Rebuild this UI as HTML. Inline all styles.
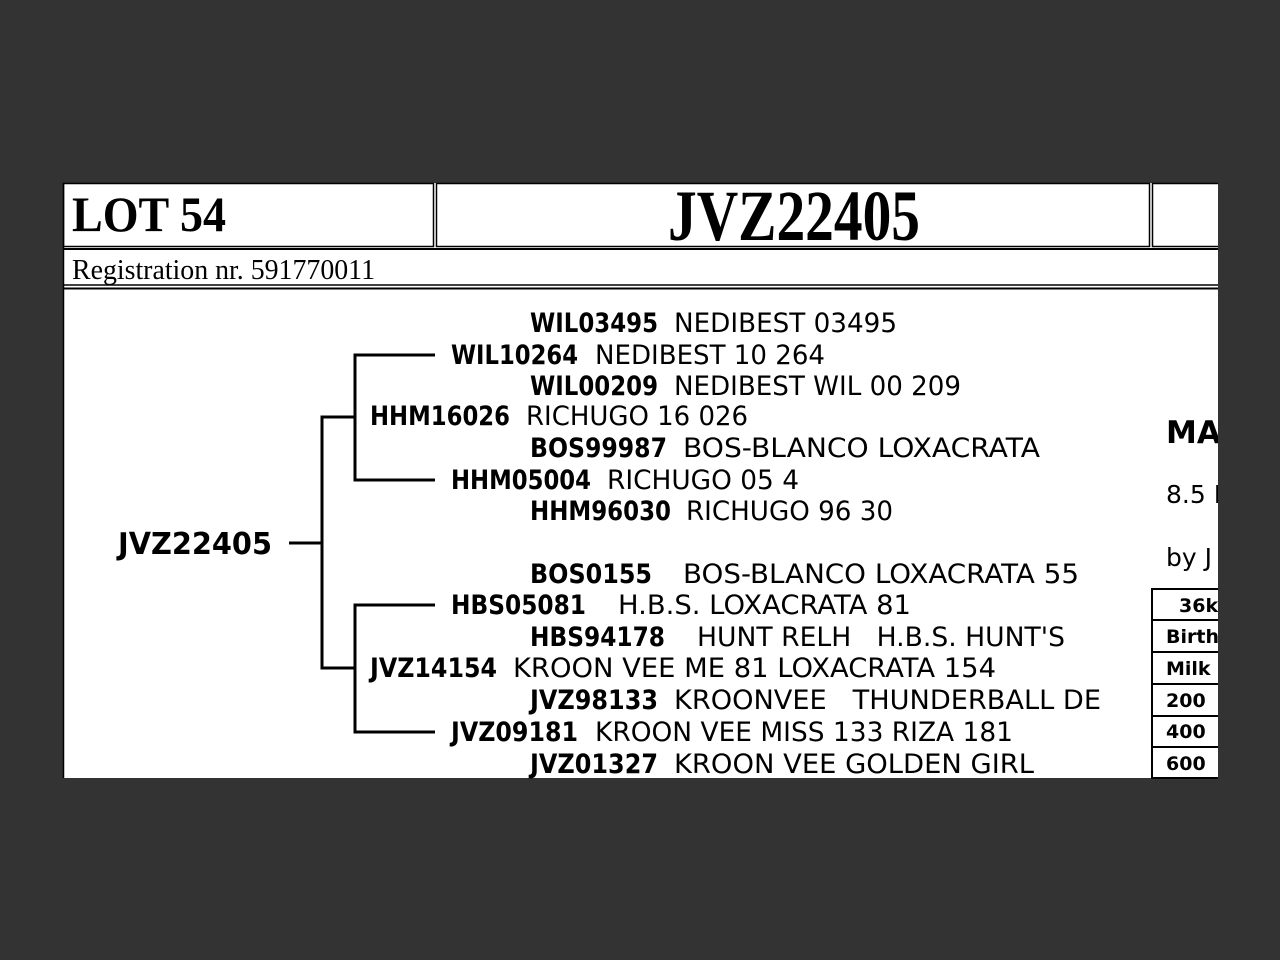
<!DOCTYPE html>
<html><head><meta charset="utf-8"><style>
html,body{margin:0;padding:0;background:#333;}
svg{display:block}
.c{font-family:"DejaVu Sans",sans-serif;font-weight:bold;font-size:27px;fill:#000}
.n{font-family:"DejaVu Sans",sans-serif;font-size:27px;fill:#000}
.s{font-family:"Liberation Serif",serif;fill:#000}
.t{font-family:"DejaVu Sans",sans-serif;font-weight:bold;font-size:19px;fill:#000}
</style></head><body>
<svg width="1280" height="960" viewBox="0 0 1280 960">
<rect width="1280" height="960" fill="#333"/>
<rect x="63" y="183" width="1155" height="595" fill="#fff"/>
<g stroke="#000" fill="none">
<rect x="63.5" y="183.5" width="370" height="63" stroke-width="1.5"/>
<rect x="436.5" y="183.5" width="713" height="63" stroke-width="1.5"/>
<line x1="63" y1="249" x2="1218" y2="249" stroke-width="2"/>
<line x1="63" y1="285" x2="1218" y2="285" stroke-width="1.5"/>
<line x1="63" y1="288.5" x2="1218" y2="288.5" stroke-width="2"/>
<line x1="63.5" y1="183" x2="63.5" y2="778" stroke-width="1.5"/>
</g>
<text class="s" x="72" y="231" font-size="50" font-weight="bold" textLength="154" lengthAdjust="spacingAndGlyphs">LOT 54</text>
<text class="s" x="668" y="240" font-size="72" font-weight="bold" textLength="252" lengthAdjust="spacingAndGlyphs">JVZ22405</text>
<text class="s" x="72" y="279" font-size="29" textLength="303" lengthAdjust="spacingAndGlyphs">Registration nr. 591770011</text>
<g stroke="#000" stroke-width="3" fill="none">
<line x1="289" y1="543" x2="322" y2="543"/>
<polyline points="355,417 322,417 322,668 355,668"/>
<polyline points="435,355 355,355 355,480 435,480"/>
<polyline points="435,605 355,605 355,732 435,732"/>
</g>
<text class="c" x="118" y="554" style="font-size:30px" textLength="154" lengthAdjust="spacingAndGlyphs">JVZ22405</text>
<g>
<text class="c" x="530" y="332" textLength="128" lengthAdjust="spacingAndGlyphs">WIL03495</text>
<text class="n" x="674" y="332" textLength="223" lengthAdjust="spacingAndGlyphs">NEDIBEST 03495</text>
<text class="c" x="451" y="364" textLength="127" lengthAdjust="spacingAndGlyphs">WIL10264</text>
<text class="n" x="595" y="364" textLength="230" lengthAdjust="spacingAndGlyphs">NEDIBEST 10 264</text>
<text class="c" x="530" y="395" textLength="128" lengthAdjust="spacingAndGlyphs">WIL00209</text>
<text class="n" x="674" y="395" textLength="287" lengthAdjust="spacingAndGlyphs">NEDIBEST WIL 00 209</text>
<text class="c" x="370" y="425" textLength="140" lengthAdjust="spacingAndGlyphs">HHM16026</text>
<text class="n" x="526" y="425" textLength="222" lengthAdjust="spacingAndGlyphs">RICHUGO 16 026</text>
<text class="c" x="530" y="457" textLength="137" lengthAdjust="spacingAndGlyphs">BOS99987</text>
<text class="n" x="683" y="457" textLength="357" lengthAdjust="spacingAndGlyphs">BOS-BLANCO LOXACRATA</text>
<text class="c" x="451" y="489" textLength="140" lengthAdjust="spacingAndGlyphs">HHM05004</text>
<text class="n" x="607" y="489" textLength="192" lengthAdjust="spacingAndGlyphs">RICHUGO 05 4</text>
<text class="c" x="530" y="520" textLength="141" lengthAdjust="spacingAndGlyphs">HHM96030</text>
<text class="n" x="686" y="520" textLength="207" lengthAdjust="spacingAndGlyphs">RICHUGO 96 30</text>
<text class="c" x="530" y="583" textLength="122" lengthAdjust="spacingAndGlyphs">BOS0155</text>
<text class="n" x="683" y="583" textLength="396" lengthAdjust="spacingAndGlyphs">BOS-BLANCO LOXACRATA 55</text>
<text class="c" x="451" y="614" textLength="135" lengthAdjust="spacingAndGlyphs">HBS05081</text>
<text class="n" x="618" y="614" textLength="293" lengthAdjust="spacingAndGlyphs">H.B.S. LOXACRATA 81</text>
<text class="c" x="530" y="646" textLength="135" lengthAdjust="spacingAndGlyphs">HBS94178</text>
<text class="n" x="697" y="646" textLength="368" lengthAdjust="spacingAndGlyphs" xml:space="preserve">HUNT RELH   H.B.S. HUNT'S</text>
<text class="c" x="370" y="677" textLength="127" lengthAdjust="spacingAndGlyphs">JVZ14154</text>
<text class="n" x="513" y="677" textLength="483" lengthAdjust="spacingAndGlyphs">KROON VEE ME 81 LOXACRATA 154</text>
<text class="c" x="530" y="709" textLength="128" lengthAdjust="spacingAndGlyphs">JVZ98133</text>
<text class="n" x="674" y="709" textLength="427" lengthAdjust="spacingAndGlyphs" xml:space="preserve">KROONVEE   THUNDERBALL DE</text>
<text class="c" x="451" y="741" textLength="127" lengthAdjust="spacingAndGlyphs">JVZ09181</text>
<text class="n" x="595" y="741" textLength="418" lengthAdjust="spacingAndGlyphs">KROON VEE MISS 133 RIZA 181</text>
<text class="c" x="530" y="773" textLength="128" lengthAdjust="spacingAndGlyphs">JVZ01327</text>
<text class="n" x="674" y="773" textLength="360" lengthAdjust="spacingAndGlyphs">KROON VEE GOLDEN GIRL</text>
</g>
<svg x="0" y="0" width="1218" height="960" overflow="hidden">
<rect x="1152.5" y="183.5" width="80" height="63" stroke="#000" stroke-width="1.5" fill="none"/>
<text class="c" x="1166" y="443" style="font-size:31px">MAT</text>
<text class="n" x="1166" y="503" style="font-size:25px">8.5 MN</text>
<text class="n" x="1166" y="566" style="font-size:25px">by J T</text>
<g stroke="#000" stroke-width="2" fill="none">
<rect x="1152" y="589" width="80" height="189"/>
<line x1="1152" y1="620" x2="1218" y2="620"/>
<line x1="1152" y1="652" x2="1218" y2="652"/>
<line x1="1152" y1="684" x2="1218" y2="684"/>
<line x1="1152" y1="716" x2="1218" y2="716"/>
<line x1="1152" y1="747" x2="1218" y2="747"/>
</g>
<text class="t" x="1179" y="612">36kg</text>
<text class="t" x="1166" y="643">Birth</text>
<text class="t" x="1166" y="675">Milk</text>
<text class="t" x="1166" y="707">200</text>
<text class="t" x="1166" y="738">400</text>
<text class="t" x="1166" y="770">600</text>
</svg>
</svg>
</body></html>
